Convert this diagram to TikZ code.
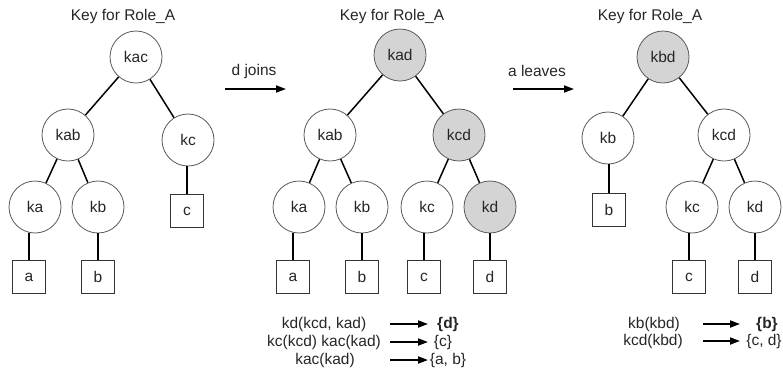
\documentclass[tikz,border=0pt]{standalone}
\usepackage{fontspec}
\setmainfont{Liberation Sans}
\usetikzlibrary{arrows.meta}
\definecolor{keygray}{RGB}{212,212,212}
\begin{document}
\begin{tikzpicture}[x=1pt,y=-1pt,
  font=\fontsize{15.5}{18}\selectfont,
  every node/.style={text=black!85},
  key/.style={circle,draw=black!65,line width=0.8pt,minimum size=52pt,inner sep=0pt,fill=white},
  newkey/.style={key,fill=keygray},
  member/.style={rectangle,draw=black!80,line width=0.8pt,minimum width=33pt,minimum height=33pt,inner sep=0pt},
  edge/.style={line width=1.5pt},
  bigarrow/.style={line width=1.8pt,-{Triangle[length=10pt,width=7pt]}}
]
\useasboundingbox (0,0) rectangle (783,376);
    \newcommand{\leafline}[2]{
        \draw[edge] (#1) -- (#1 |- #2.south);
    }

  % first tree
  \node (t1title) at (123,16) {Key for Role\_A};
  \node[key] (t1kac) at (136,57) {kac};
  \node[key] (t1kab) at (68,135) {kab};
  \node[key] (t1kc) at (188,140) {kc};
  \node[key] (t1ka) at (35,207) {ka};
  \node[key] (t1kb) at (98,207) {kb};
  \node[member] (t1c) at (187,211) {c};
  \node[member] (t1a) at (29,277) {a};
  \node[member] (t1b) at (98,277) {b};
  \draw[edge] (t1kac) -- (t1kab);
  \draw[edge] (t1kac) -- (t1kc);
  \draw[edge] (t1kab) -- (t1ka);
  \draw[edge] (t1kab) -- (t1kb);
  \leafline{t1c}{t1kc}
  \leafline{t1a}{t1ka}
  \leafline{t1b}{t1kb}

  % d joins
  \node (join) at (254,71) {d joins};
  \coordinate (join1) at (225,89);
  \coordinate (join2) at (286,89);
  \draw[bigarrow] (join1) -- (join2);

  % second tree
  \node (t2title) at (392,16) {Key for Role\_A};
  \node[newkey] (t2kad) at (400,55) {kad};
  \node[key] (t2kab) at (330,135) {kab};
  \node[newkey] (t2kcd) at (459,135) {kcd};
  \node[key] (t2ka) at (299,207) {ka};
  \node[key] (t2kb) at (362,207) {kb};
  \node[key] (t2kc) at (427,207) {kc};
  \node[newkey] (t2kd) at (490,207) {kd};
  \node[member] (t2a) at (293,277) {a};
  \node[member] (t2b) at (362,277) {b};
  \node[member] (t2c) at (424,277) {c};
  \node[member] (t2d) at (490,277) {d};
  \draw[edge] (t2kad) -- (t2kab);
  \draw[edge] (t2kad) -- (t2kcd);
  \draw[edge] (t2kab) -- (t2ka);
  \draw[edge] (t2kab) -- (t2kb);
  \draw[edge] (t2kcd) -- (t2kc);
  \draw[edge] (t2kcd) -- (t2kd);
  \leafline{t2a}{t2ka}
  \leafline{t2b}{t2kb}
  \leafline{t2c}{t2kc}
  \leafline{t2d}{t2kd}

  \node (t2msg1) at (324,324) {kd(kcd, kad)};
  \node (t2msg2) at (324,342) {kc(kcd) kac(kad)};
  \node (t2msg3) at (325,360) {kac(kad)};
  \node[font=\fontsize{15.5}{18}\selectfont\bfseries] (t2to1) at (448,324) {\{d\}};
  \node (t2to2) at (443,342) {\{c\}};
  \node (t2to3) at (448,360) {\{a, b\}};
  \foreach \i/\y in {1/324,2/342,3/360} {
    \coordinate (t2s\i) at (390,\y);
    \coordinate (t2e\i) at (428,\y);
    \draw[bigarrow] (t2s\i) -- (t2e\i);
  }

  % a leaves
  \node (leave) at (537,71) {a leaves};
  \coordinate (leave1) at (513,89);
  \coordinate (leave2) at (574,89);
  \draw[bigarrow] (leave1) -- (leave2);

  % third tree
  \node (t3title) at (650,16) {Key for Role\_A};
  \node[newkey] (t3kbd) at (663,57) {kbd};
  \node[key] (t3kb) at (608,138) {kb};
  \node[key] (t3kcd) at (724,135) {kcd};
  \node[member] (t3b) at (609,210) {b};
  \node[key] (t3kc) at (692,207) {kc};
  \node[key] (t3kd) at (755,207) {kd};
  \node[member] (t3c) at (689,277) {c};
  \node[member] (t3d) at (755,277) {d};
  \draw[edge] (t3kbd) -- (t3kb);
  \draw[edge] (t3kbd) -- (t3kcd);
  \draw[edge] (t3kcd) -- (t3kc);
  \draw[edge] (t3kcd) -- (t3kd);
  \leafline{t3b}{t3kb}
  \leafline{t3c}{t3kc}
  \leafline{t3d}{t3kd}

  \node (t3msg1) at (654,324) {kb(kbd)};
  \node (t3msg2) at (653,341) {kcd(kbd)};
  \node[font=\fontsize{15.5}{18}\selectfont\bfseries] (t3to1) at (767,324) {\{b\}};
  \node (t3to2) at (764,341) {\{c, d\}};
  \foreach \i/\y in {1/324,2/341} {
    \coordinate (t3s\i) at (703,\y);
    \coordinate (t3e\i) at (740,\y);
    \draw[bigarrow] (t3s\i) -- (t3e\i);
  }
\end{tikzpicture}
\end{document}
